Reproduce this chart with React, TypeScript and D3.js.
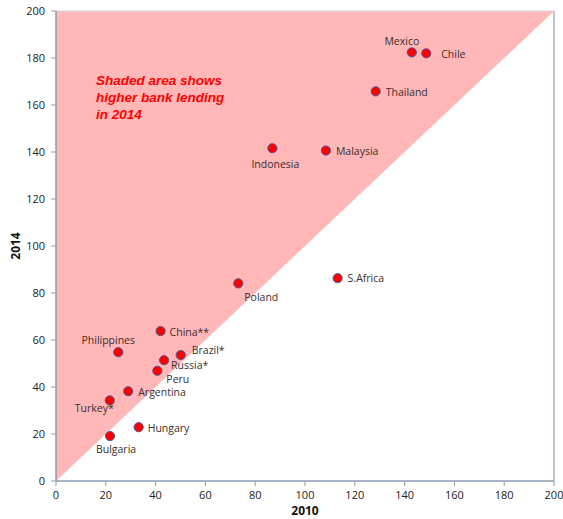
import React from "react";
import * as d3 from "d3";

// Bank lending by country, 2010 vs 2014
const countries = [
  "Mexico", "Chile", "Thailand", "Indonesia", "Malaysia", "S.Africa", "Poland",
  "China**", "Philippines", "Brazil*", "Russia*", "Peru", "Argentina", "Turkey*",
  "Hungary", "Bulgaria",
];
const lending2010 = [142.9, 148.7, 128.4, 86.9, 108.4, 113.1, 73.2, 42.0, 25.0, 50.1, 43.4, 40.7, 29.0, 21.6, 33.2, 21.7];
const lending2014 = [182.4, 182.0, 165.8, 141.6, 140.6, 86.3, 84.1, 63.8, 54.8, 53.6, 51.4, 46.9, 38.2, 34.3, 22.9, 19.1];

const xTicks = [0, 20, 40, 60, 80, 100, 120, 140, 160, 180, 200];
const yTicks = [0, 20, 40, 60, 80, 100, 120, 140, 160, 180, 200];

const noteLines = ["Shaded area shows", "higher bank lending", "in 2014"];

// label placement relative to each point: [dx, dy, anchor]
const labelPlacement: Record<string, [number, number, string]> = {
  "Mexico": [-10, -11, "middle"],
  "Chile": [15, 1, "start"],
  "Thailand": [10, 1, "start"],
  "Indonesia": [3, 16, "middle"],
  "Malaysia": [10, 1, "start"],
  "S.Africa": [10, 0, "start"],
  "Poland": [6, 14, "start"],
  "China**": [9, 1, "start"],
  "Philippines": [-10, -12, "middle"],
  "Brazil*": [11, -5, "start"],
  "Russia*": [7, 5, "start"],
  "Peru": [9, 9, "start"],
  "Argentina": [10, 1, "start"],
  "Turkey*": [4, 8, "end"],
  "Hungary": [9, 1, "start"],
  "Bulgaria": [6, 13, "middle"],
};

const W = 563;
const H = 519;
const left = 56, right = 554, top = 11, bottom = 481;

export default function App() {
  const x = d3.scaleLinear().domain([0, 200]).range([left, right]);
  const y = d3.scaleLinear().domain([0, 200]).range([bottom, top]);
  const axisColor = "#8c9bb0";
  const textColor = "#3b2e2e";
  const font = "'Open Sans', 'DejaVu Sans', sans-serif";

  const shaded = `M${x(0)},${y(0)} L${x(0)},${y(200)} L${x(200)},${y(200)} Z`;

  return (
    <svg
      width={W}
      height={H}
      style={{ position: "absolute", left: 0, top: 0, background: "#fff" }}
    >
      <path d={shaded} fill="#ffb7b7" />
      {/* frame */}
      <line x1={x(0)} x2={x(200)} y1={y(200)} y2={y(200)} stroke="#d9d9d9" strokeWidth={1} />
      <line x1={x(200)} x2={x(200)} y1={y(200)} y2={y(0)} stroke={axisColor} strokeWidth={1.2} />
      <line x1={x(0)} x2={x(0)} y1={y(0)} y2={y(200)} stroke={axisColor} strokeWidth={1.5} />
      <line x1={x(0)} x2={x(200)} y1={y(0)} y2={y(0)} stroke={axisColor} strokeWidth={1.5} />

      {yTicks.map((t) => (
        <g key={"y" + t}>
          <line x1={x(0) - 5} x2={x(0)} y1={y(t)} y2={y(t)} stroke={axisColor} />
          <text x={x(0) - 11} y={y(t)} dy="0.35em" textAnchor="end" fontSize={11} fontFamily={font} fill="#222">
            {t}
          </text>
        </g>
      ))}
      {xTicks.map((t) => (
        <g key={"x" + t}>
          <line x1={x(t)} x2={x(t)} y1={y(0)} y2={y(0) + 5} stroke={axisColor} />
          <text x={x(t)} y={y(0) + 14} dy="0.35em" textAnchor="middle" fontSize={11} fontFamily={font} fill="#222">
            {t}
          </text>
        </g>
      ))}

      <text x={(left + right) / 2} y={515} textAnchor="middle" fontSize={12} fontWeight="bold" fontFamily={font} fill="#111">
        2010
      </text>
      <text
        transform={`translate(20,${(top + bottom) / 2}) rotate(-90)`}
        textAnchor="middle"
        fontSize={12}
        fontWeight="bold"
        fontFamily={font}
        fill="#111"
      >
        2014
      </text>

      {noteLines.map((line, i) => (
        <text
          key={line}
          x={96}
          y={80 + i * 17.3}
          dy="0.35em"
          fontSize={13.5}
          fontWeight="bold"
          fontStyle="italic"
          fontFamily="'Liberation Sans', Arial, sans-serif"
          fill="#ff0000"
        >
          {line}
        </text>
      ))}

      {countries.map((c, i) => {
        const cx = x(lending2010[i]);
        const cy = y(lending2014[i]);
        const [dx, dy, anchor] = labelPlacement[c];
        return (
          <g key={c}>
            <circle cx={cx} cy={cy} r={4.6} fill="#ff0000" stroke="#4a5a9a" strokeWidth={1} />
            <text
              x={cx + dx}
              y={cy + dy}
              dy="0.35em"
              textAnchor={anchor}
              fontSize={10.5}
              fontFamily={font}
              fill={textColor}
            >
              {c}
            </text>
          </g>
        );
      })}
    </svg>
  );
}
